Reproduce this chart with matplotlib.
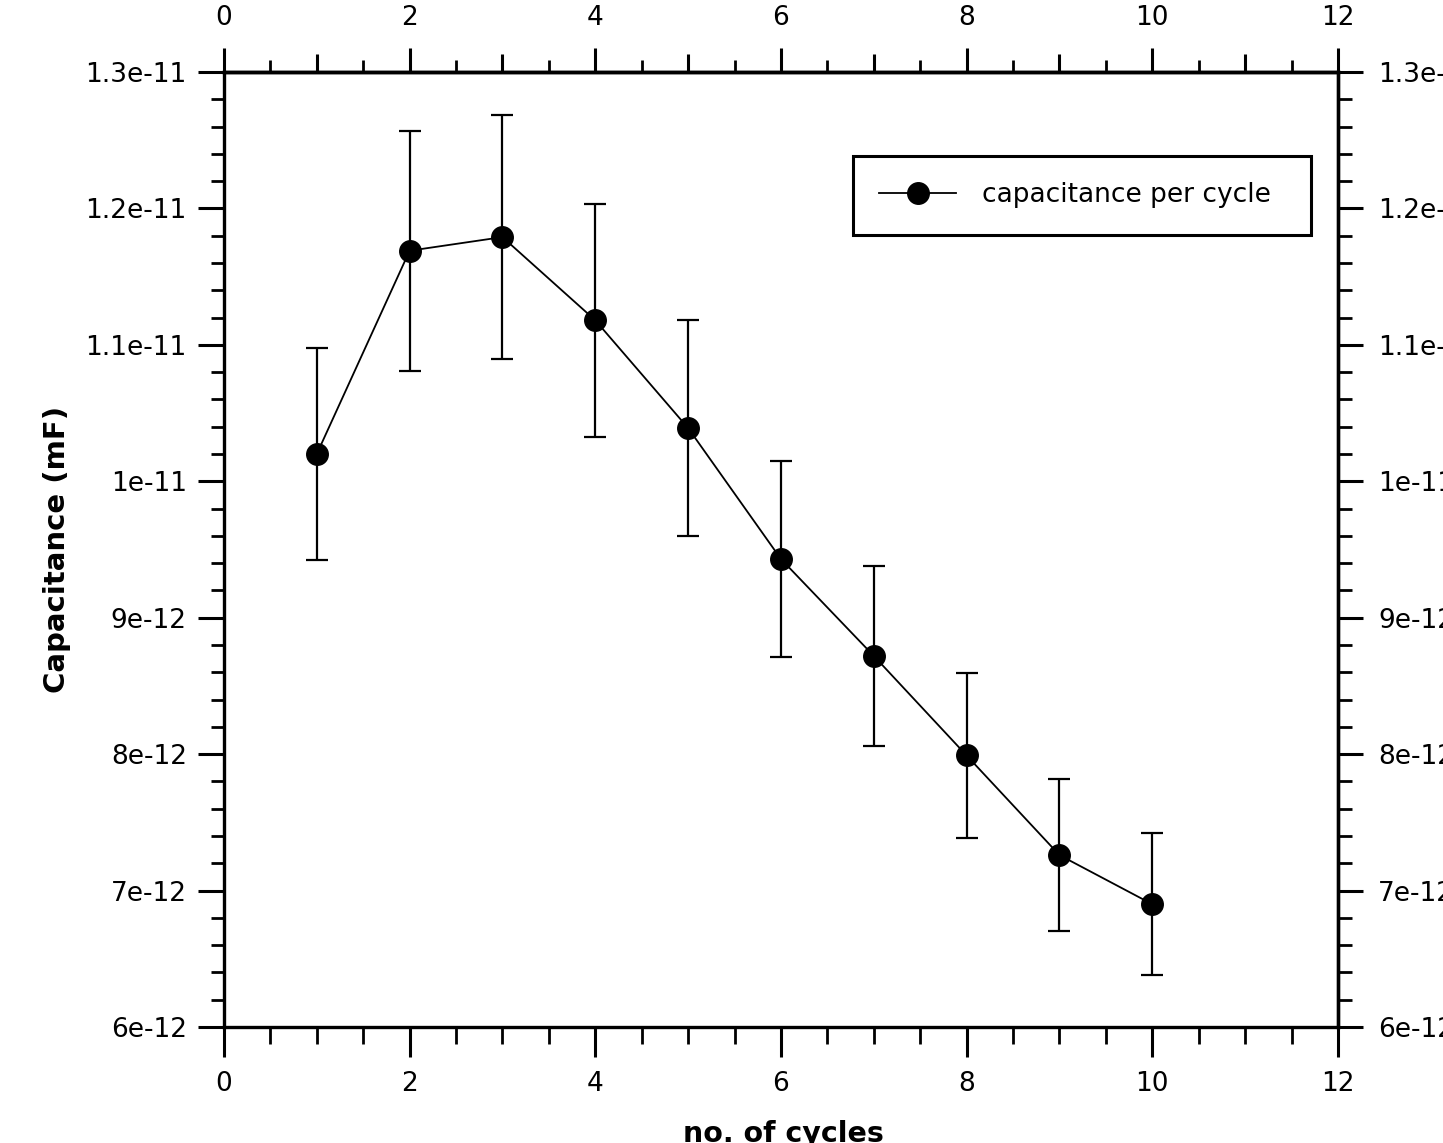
import numpy as np
import matplotlib
matplotlib.use("Agg")
import matplotlib.pyplot as plt
from matplotlib.ticker import MultipleLocator, FixedLocator, NullFormatter, FuncFormatter

# ------------------ Datos ------------------
cycles = [1, 2, 3, 4, 5, 6, 7, 8, 9, 10]
capacitance = [1.02e-11, 1.169e-11, 1.179e-11, 1.118e-11, 1.039e-11,
               9.43e-12, 8.72e-12, 7.99e-12, 7.26e-12, 6.90e-12]
cap_err = [7.75e-13, 8.8e-13, 8.95e-13, 8.55e-13, 7.9e-13,
           7.2e-13, 6.6e-13, 6.05e-13, 5.6e-13, 5.2e-13]

x_ticks = [0, 2, 4, 6, 8, 10, 12]
y_ticks = [6e-12, 7e-12, 8e-12, 9e-12, 1e-11, 1.1e-11, 1.2e-11, 1.3e-11]

series_label = "capacitance per cycle"
x_label = "no. of cycles"
y_label = "Capacitance (mF)"

# ------------------ Figura ------------------
plt.rcParams['font.family'] = ['DejaVu Sans']
fs = 19

fig = plt.figure(figsize=(14.43, 11.43), dpi=100)
ax = fig.add_axes([0.1552, 0.1015, 0.7720, 0.8355])

# barras de error (sin etiqueta) + linea con marcadores
ax.errorbar(cycles, capacitance, yerr=cap_err, fmt='none', ecolor='black',
            elinewidth=1.6, capsize=8, capthick=1.6)
ax.plot(cycles, capacitance, color='black', lw=1.3, marker='o',
        markersize=15.5, label=series_label)

ax.set_xlim(0, 12)
ax.set_ylim(6e-12, 1.3e-11)

for s in ax.spines.values():
    s.set_linewidth(2.4)

fmt = FuncFormatter(lambda v, p: f"{v:g}")

# eje inferior / izquierdo
ax.xaxis.set_major_locator(FixedLocator(x_ticks))
ax.xaxis.set_minor_locator(MultipleLocator(0.5))
ax.yaxis.set_major_locator(FixedLocator(y_ticks))
ax.yaxis.set_minor_locator(MultipleLocator(2e-13))
ax.yaxis.set_major_formatter(fmt)
ax.xaxis.set_major_formatter(fmt)
ax.tick_params(axis='x', which='major', direction='out', length=21.6, width=2.2,
               pad=10, labelsize=fs, top=False)
ax.tick_params(axis='x', which='minor', direction='out', length=12.2, width=2.0, top=False)
ax.tick_params(axis='y', which='major', direction='out', length=18.7, width=2.2,
               pad=8, labelsize=fs, right=False)
ax.tick_params(axis='y', which='minor', direction='out', length=9.4, width=2.0, right=False)

# eje superior
top = ax.secondary_xaxis('top')
top.xaxis.set_major_locator(FixedLocator(x_ticks))
top.xaxis.set_minor_locator(MultipleLocator(0.5))
top.xaxis.set_major_formatter(fmt)
top.tick_params(which='major', direction='out', length=17.3, width=2.2, pad=12.5, labelsize=fs)
top.tick_params(which='minor', direction='out', length=8.6, width=2.0)
top.spines['top'].set_linewidth(2.4)

top2 = ax.secondary_xaxis('top')
top2.xaxis.set_major_locator(FixedLocator([1, 3, 5, 7, 9, 11]))
top2.xaxis.set_major_formatter(NullFormatter())
top2.tick_params(which='major', direction='out', length=13, width=2.2)
top2.spines['top'].set_linewidth(2.4)

# eje derecho
right = ax.secondary_yaxis('right')
right.yaxis.set_major_locator(FixedLocator(y_ticks))
right.yaxis.set_minor_locator(MultipleLocator(2e-13))
right.yaxis.set_major_formatter(fmt)
right.tick_params(which='major', direction='out', length=18, width=2.2, pad=11, labelsize=fs)
right.tick_params(which='minor', direction='out', length=10, width=2.0)
right.spines['right'].set_linewidth(2.4)

ax.set_xlabel(x_label, fontsize=20.5, fontweight='bold')
ax.set_ylabel(y_label, fontsize=21, fontweight='bold')
ax.xaxis.set_label_coords(0.502, -0.097)
ax.yaxis.set_label_coords(-0.150, 0.5)
ax.yaxis.label.set_va('center')

leg = ax.legend(loc='upper left', bbox_to_anchor=(0.5646, 0.831, 0.4112, 0.081),
                mode='expand', fontsize=fs, numpoints=1, handlelength=2.9,
                handletextpad=1.0, borderpad=1.0, borderaxespad=0,
                fancybox=False, frameon=True, framealpha=1, edgecolor='black')
leg.get_frame().set_linewidth(2.2)

fig.savefig("out.png", dpi=100)
